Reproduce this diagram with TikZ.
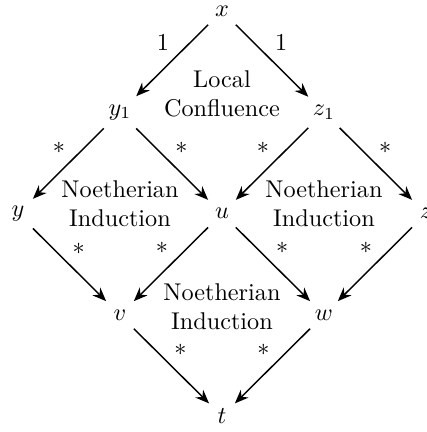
\documentclass[tikz,border=0pt]{standalone}
\usepackage{tikz}
\usetikzlibrary{arrows.meta,positioning}
\tikzset{
  term/.style={inner sep=3.33pt},
  note/.style={align=center},
  rw/.style={-{Stealth[length=2mm,width=1.6mm]},semithick},
  lab/.style={inner sep=2.5pt},
}
\begin{document}
\begin{tikzpicture}
\useasboundingbox (-3.219,0.160) rectangle (2.973,-6.105);
% terms
\node[term] (x)  at (0,0)            {$x$};
\node[term] (y1) at (-1.479,-1.469)  {$y_1$};
\node[term] (z1) at (1.479,-1.469)   {$z_1$};
\node[term] (y)  at (-2.958,-2.938)  {$y$};
\node[term] (u)  at (0,-2.938)       {$u$};
\node[term] (z)  at (2.958,-2.938)   {$z$};
\node[term] (v)  at (-1.479,-4.407)  {$v$};
\node[term] (w)  at (1.479,-4.407)   {$w$};
\node[term] (t)  at (0,-5.876)       {$t$};
% diamonds
\node[note] (lc)  at (0,-1.2)        {Local\\Confluence};
\node[note] (ni1) at (-1.479,-2.8)   {Noetherian\\Induction};
\node[note] (ni2) at (1.479,-2.8)    {Noetherian\\Induction};
\node[note] (ni3) at (0,-4.29)       {Noetherian\\Induction};
% reductions
\draw[rw] (x)  -- node[lab,pos=0.45,above left]  {$1$} (y1);
\draw[rw] (x)  -- node[lab,pos=0.45,above right] {$1$} (z1);
\draw[rw] (y1) -- node[lab,pos=0.45,above left]  {$*$} (y);
\draw[rw] (y1) -- node[lab,pos=0.45,above right] {$*$} (u);
\draw[rw] (z1) -- node[lab,pos=0.45,above left]  {$*$} (u);
\draw[rw] (z1) -- node[lab,pos=0.45,above right] {$*$} (z);
\draw[rw] (y)  -- node[lab,pos=0.45,above right] {$*$} (v);
\draw[rw] (u)  -- node[lab,pos=0.45,above left]  {$*$} (v);
\draw[rw] (u)  -- node[lab,pos=0.45,above right] {$*$} (w);
\draw[rw] (z)  -- node[lab,pos=0.45,above left]  {$*$} (w);
\draw[rw] (v)  -- node[lab,pos=0.45,above right] {$*$} (t);
\draw[rw] (w)  -- node[lab,pos=0.45,above left]  {$*$} (t);
\end{tikzpicture}
\end{document}
